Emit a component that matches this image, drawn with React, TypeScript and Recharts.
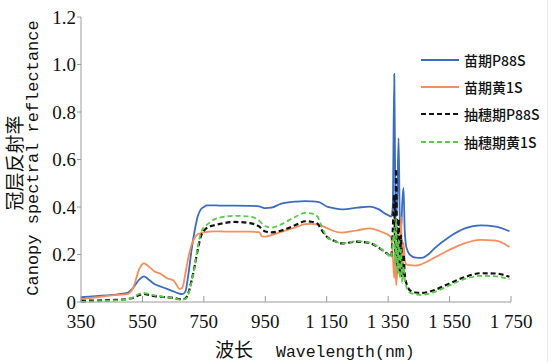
import { LineChart, Line, XAxis, YAxis, Legend } from 'recharts';

// wavelength (nm)
const wavelengths = [
  350, 400, 450, 500, 520, 540, 555, 570, 590, 610, 630, 650, 660, 670, 680, 690, 700, 710, 720, 730, 740, 750,
  760, 780, 800, 850, 900, 930, 940, 950, 970, 1000, 1050, 1080, 1100, 1120, 1130, 1150, 1170, 1200, 1250, 1290,
  1320, 1340, 1350, 1360, 1365, 1370, 1373, 1376, 1380, 1384, 1388, 1392, 1396, 1400, 1404, 1408, 1412, 1420,
  1440, 1460, 1480, 1500, 1550, 1600, 1650, 1700, 1745,
];

const seedlingP88S = [
  0.02, 0.025, 0.03, 0.038, 0.06, 0.095, 0.108, 0.095, 0.075, 0.065, 0.055, 0.045, 0.04, 0.035, 0.033, 0.045, 0.12,
  0.22, 0.3, 0.36, 0.39, 0.4, 0.407, 0.407, 0.406, 0.406, 0.405, 0.403, 0.398, 0.395, 0.397, 0.413, 0.423, 0.425,
  0.424, 0.422, 0.418, 0.402, 0.396, 0.39, 0.397, 0.402, 0.39, 0.372, 0.366, 0.36, 0.4, 0.96, 0.5, 0.36, 0.45, 0.69,
  0.35, 0.3, 0.42, 0.48, 0.3, 0.24, 0.22, 0.2, 0.187, 0.186, 0.2, 0.225, 0.275, 0.31, 0.323, 0.317, 0.298,
];

const seedlingHuang1S = [
  0.012, 0.02, 0.028, 0.033, 0.06, 0.14, 0.163, 0.15, 0.128, 0.118, 0.1, 0.092, 0.075, 0.055, 0.06, 0.12, 0.19,
  0.24, 0.27, 0.285, 0.29, 0.293, 0.295, 0.297, 0.297, 0.296, 0.296, 0.294, 0.276, 0.275, 0.282, 0.294, 0.315, 0.328,
  0.329, 0.326, 0.323, 0.312, 0.3, 0.292, 0.302, 0.31, 0.3, 0.289, 0.283, 0.27, 0.2, 0.1, 0.22, 0.07, 0.14, 0.3,
  0.12, 0.36, 0.1, 0.25, 0.18, 0.16, 0.157, 0.155, 0.153, 0.16, 0.172, 0.186, 0.22, 0.248, 0.262, 0.258, 0.232,
];

const headingP88S = [
  0.005, 0.006, 0.008, 0.012, 0.018, 0.03, 0.034, 0.03, 0.025, 0.022, 0.02, 0.017, 0.015, 0.012, 0.012, 0.015, 0.04,
  0.09, 0.15, 0.22, 0.275, 0.3, 0.312, 0.322, 0.328, 0.337, 0.332, 0.318, 0.305, 0.297, 0.293, 0.3, 0.325, 0.34,
  0.338, 0.33, 0.31, 0.275, 0.26, 0.247, 0.254, 0.248, 0.228, 0.21, 0.2, 0.19, 0.3, 0.45, 0.2, 0.56, 0.15, 0.35,
  0.12, 0.28, 0.1, 0.2, 0.12, 0.085, 0.07, 0.05, 0.04, 0.038, 0.042, 0.05, 0.078, 0.105, 0.121, 0.12, 0.106,
];

const headingHuang1S = [
  0.0, 0.003, 0.006, 0.01, 0.02, 0.034, 0.038, 0.034, 0.028, 0.024, 0.02, 0.016, 0.013, 0.01, 0.01, 0.013, 0.035,
  0.085, 0.15, 0.23, 0.29, 0.315, 0.325, 0.345, 0.355, 0.363, 0.36, 0.342, 0.33, 0.32, 0.313, 0.326, 0.36, 0.375,
  0.373, 0.36, 0.33, 0.275, 0.26, 0.247, 0.256, 0.25, 0.23, 0.21, 0.2, 0.185, 0.25, 0.3, 0.16, 0.35, 0.12, 0.26,
  0.1, 0.22, 0.08, 0.15, 0.1, 0.07, 0.055, 0.04, 0.032, 0.03, 0.034, 0.042, 0.07, 0.097, 0.11, 0.108, 0.095,
];

const xTicks = [350, 550, 750, 950, 1150, 1350, 1550, 1750];
const yTicks = [0, 0.2, 0.4, 0.6, 0.8, 1.0, 1.2];

const series = [
  { key: 'seedlingP88S', name: '苗期P88S', color: '#3a6cc0', dash: undefined, width: 1.8 },
  { key: 'seedlingHuang1S', name: '苗期黄1S', color: '#f58d5c', dash: undefined, width: 1.8 },
  { key: 'headingP88S', name: '抽穗期P88S', color: '#111111', dash: '5 3', width: 2.2 },
  { key: 'headingHuang1S', name: '抽穗期黄1S', color: '#5cc84a', dash: '5 3', width: 1.8 },
];

const chartData = wavelengths.map((w, i) => ({
  w,
  seedlingP88S: seedlingP88S[i],
  seedlingHuang1S: seedlingHuang1S[i],
  headingP88S: headingP88S[i],
  headingHuang1S: headingHuang1S[i],
}));

const serif = '"Liberation Serif", "Times New Roman", serif';
const mono = '"Liberation Mono", "DejaVu Sans Mono", monospace';
const cjk = '"Noto Sans CJK SC", sans-serif';

const fmtX = (v: number) => (v >= 1000 ? `1 ${String(v - 1000).padStart(3, '0')}` : String(v));
const fmtY = (v: number) => (v === 0 ? '0' : v.toFixed(1));

function LegendBox() {
  return (
    <div style={{ fontFamily: cjk, fontSize: 14, fontWeight: 500, color: '#111' }}>
      {series.map(s => (
        <div key={s.key} style={{ display: 'flex', alignItems: 'center', height: 27.3 }}>
          <svg width={40} height={10} style={{ marginRight: 4 }}>
            <line x1={1} y1={5} x2={39} y2={5} stroke={s.color} strokeWidth={s.width} strokeDasharray={s.dash} />
          </svg>
          <span>{s.name}</span>
        </div>
      ))}
    </div>
  );
}

function YTitle() {
  return (
    <g>
      <text x={13} y={163} transform="rotate(-90 13 163)" textAnchor="middle" dominantBaseline="central"
        fontFamily={cjk} fontSize={19} fill="#111">冠层反射率</text>
      <text x={33} y={158} transform="rotate(-90 33 158)" textAnchor="middle" dominantBaseline="central"
        fontFamily={mono} fontSize={17} fill="#111">Canopy spectral reflectance</text>
    </g>
  );
}

function XTitle() {
  return (
    <text x={215} y={357} fill="#111">
      <tspan fontFamily={cjk} fontSize={19}>波长</tspan>
      <tspan x={276} fontFamily={mono} fontSize={16.5}>Wavelength(nm)</tspan>
    </text>
  );
}

export default function App() {
  return (
    <div style={{ position: 'absolute', left: 0, top: 0, width: 554, height: 362, background: '#fff' }}>
      <div style={{ position: 'absolute', left: 547, top: 0, width: 1, height: 362, background: '#e8e8e8' }} />
      <LineChart width={554} height={362} data={chartData} margin={{ top: 17, right: 43, bottom: 0, left: 0 }}>
        <XAxis
          dataKey="w"
          type="number"
          domain={[350, 1750]}
          ticks={xTicks}
          interval={0}
          tickFormatter={fmtX}
          height={60}
          stroke="#9a9a9a"
          tickSize={-6}
          tickMargin={19}
          tick={{ fontFamily: serif, fontSize: 19, fill: '#111' }}
          allowDataOverflow
          label={{ content: () => <XTitle /> }}
        />
        <YAxis
          type="number"
          domain={[0, 1.2]}
          ticks={yTicks}
          interval={0}
          tickFormatter={fmtY}
          width={81}
          stroke="#9a9a9a"
          tickSize={4}
          tickMargin={1}
          tick={{ fontFamily: serif, fontSize: 19, fill: '#111' }}
          label={{ content: () => <YTitle /> }}
        />
        <Legend
          verticalAlign="middle"
          align="center"
          layout="vertical"
          content={() => <LegendBox />}
          wrapperStyle={{ position: 'absolute', left: 420, top: 46, width: 130, height: 110 }}
        />
        {series.map(s => (
          <Line
            key={s.key}
            dataKey={s.key}
            name={s.name}
            type="monotone"
            stroke={s.color}
            strokeWidth={s.width}
            strokeDasharray={s.dash}
            dot={false}
            isAnimationActive={false}
          />
        ))}
      </LineChart>
    </div>
  );
}
